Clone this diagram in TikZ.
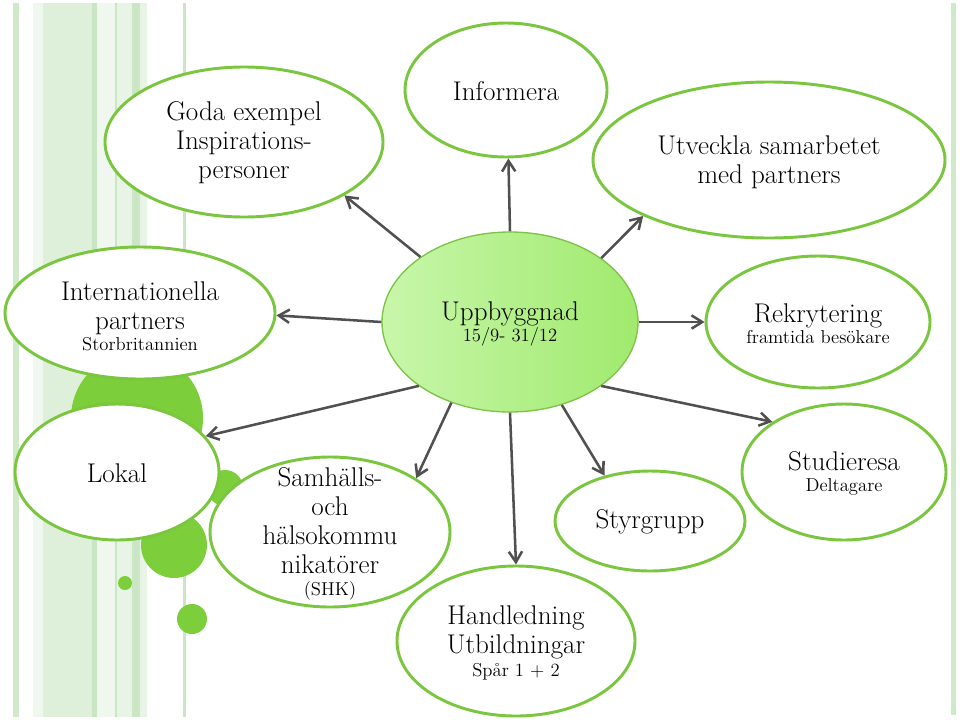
\documentclass[tikz,border=0pt]{standalone}
\usetikzlibrary{shapes.geometric,arrows.meta}
\definecolor{bord}{RGB}{122,198,62}
\definecolor{blob}{RGB}{124,206,58}
\definecolor{arrowgray}{RGB}{80,80,80}
\definecolor{cL}{RGB}{200,246,170}
\definecolor{cR}{RGB}{160,234,110}
\definecolor{cB}{RGB}{125,195,70}
\definecolor{sA}{RGB}{208,234,201}
\definecolor{sB}{RGB}{240,247,238}
\definecolor{sC}{RGB}{223,240,218}
\definecolor{sD}{RGB}{203,230,196}
\definecolor{sE}{RGB}{232,244,229}
\newcommand\bigtxt{\fontsize{20.3}{21.75}\selectfont}
\newcommand\smalltxt{\fontsize{14}{15}\selectfont}
\tikzset{
  bub/.style={ellipse, draw=bord, line width=2.2pt, fill=white, inner sep=0pt},
  lbl/.style={align=center, font=\bigtxt, text=black, inner sep=0pt},
  arr/.style={draw=arrowgray, line width=1.9pt, -{Straight Barb[length=8pt,width=10pt]}},
  blobf/.style={fill=blob}
}
\begin{document}
\begin{tikzpicture}[x=0.75pt,y=-0.75pt]
\useasboundingbox (0,0) rectangle (960,722);
% background stripes
\fill[sA] (13,3) rectangle (19,717);
\fill[sB] (33,3) rectangle (43,717);
\fill[sC] (43,3) rectangle (92,717);
\fill[sD] (92,3) rectangle (97,717);
\fill[sB] (97,3) rectangle (115,717);
\fill[sD] (115,3) rectangle (117,717);
\fill[sE] (117,3) rectangle (132,717);
\fill[sD] (132,3) rectangle (140,717);
\fill[sE] (140,3) rectangle (147,717);
\fill[sD] (183,3) rectangle (186,717);
\fill[sA] (951,3) rectangle (956,715);
% decorative circles
\fill[blobf] (137,418) circle[radius=49.5pt];
\fill[blobf] (225,488) circle[radius=13.5pt];
\fill[blobf] (174,545) circle[radius=24.75pt];
\fill[blobf] (125,583) circle[radius=5.25pt];
\fill[blobf] (192,619) circle[radius=11.25pt];
% ellipses
\node[bub, minimum width=208.5pt, minimum height=112.5pt] (goda) at (244,142) {};
\node[bub, minimum width=151.5pt, minimum height=100.5pt] (info) at (506,90) {};
\node[bub, minimum width=264pt, minimum height=117pt] (utv) at (769,160) {};
\node[bub, minimum width=202.5pt, minimum height=99pt] (intl) at (140,313) {};
\node[ellipse, draw=cB, line width=1pt, left color=cL, right color=cR, inner sep=0pt,
      minimum width=192pt, minimum height=135pt] (c) at (510,322) {};
\node[bub, minimum width=168pt, minimum height=99pt] (rekr) at (818,322) {};
\node[bub, minimum width=153pt, minimum height=102pt] (lokal) at (117,472) {};
\node[bub, minimum width=180pt, minimum height=112.5pt] (samh) at (330,532) {};
\node[bub, minimum width=142.5pt, minimum height=75pt] (styr) at (650,521) {};
\node[bub, minimum width=153pt, minimum height=102pt] (stud) at (844,472) {};
\node[bub, minimum width=178.5pt, minimum height=112.5pt] (hand) at (516,641) {};
% texts
\node[lbl] (goda-t) at (244,143) {Goda exempel\\Inspirations-\\personer};
\node[lbl] (info-t) at (506,91) {Informera};
\node[lbl] (utv-t) at (769,162) {Utveckla samarbetet\\med partners};
\node[lbl] (intl-t) at (140,316) {Internationella\\partners\\[-6pt]{\smalltxt Storbritannien}};
\node[lbl] (c-t) at (510,324) {Uppbyggnad\\[-6pt]{\smalltxt 15/9- 31/12}};
\node[lbl] (rekr-t) at (818,324) {Rekrytering\\[-6pt]{\smalltxt framtida besökare}};
\node[lbl] (lokal-t) at (117,473) {Lokal};
\node[lbl] (samh-t) at (330,534) {Samhälls-\\och\\hälsokommu\\nikatörer\\[-5pt]{\smalltxt (SHK)}};
\node[lbl] (styr-t) at (650,522) {Styrgrupp};
\node[lbl] (stud-t) at (844,473) {Studieresa\\[-6pt]{\smalltxt Deltagare}};
\node[lbl] (hand-t) at (516,643) {Handledning\\Utbildningar\\[-5pt]{\smalltxt Spår 1 + 2}};
% arrows
\draw[arr] (c.144.6) -- (goda.332);
\draw[arr] (c.90) -- (info.272);
\draw[arr] (c.35.1) -- (utv.204.7);
\draw[arr] (c.180) -- (intl.359);
\draw[arr] (c.0) -- (rekr.180);
\draw[arr] (c.215.4) -- (lokal.22.8);
\draw[arr] (c.234.1) -- (samh.32.9);
\draw[arr] (c.270) -- (hand.90);
\draw[arr] (c.302.6) -- (styr.135.6);
\draw[arr] (c.325.3) -- (stud.145.8);
\end{tikzpicture}
\end{document}
